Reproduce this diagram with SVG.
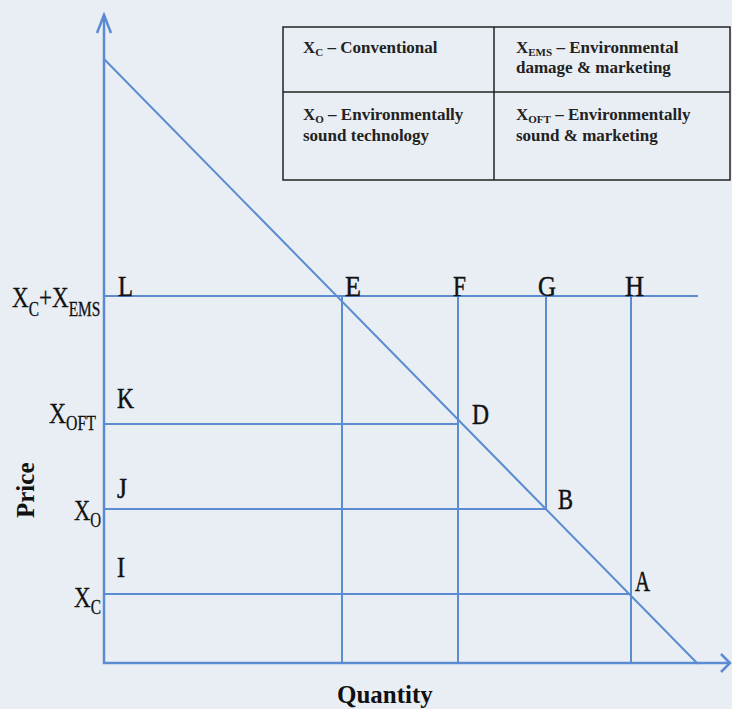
<svg xmlns="http://www.w3.org/2000/svg" width="732" height="709" viewBox="0 0 732 709">
<style>
.ln{stroke:#5b8bd1;stroke-width:2;fill:none;stroke-linecap:square}
.ax{stroke:#5b8bd1;stroke-width:2.5;fill:none;stroke-linejoin:miter}
.pt{font-family:"Liberation Serif",serif;font-size:30px;fill:#111;stroke:#111;stroke-width:0.5}
.ylab{font-family:"Liberation Serif",serif;font-size:30px;fill:#111;stroke:#111;stroke-width:0.3}
.sub{font-size:20px}
.tb{font-family:"Liberation Serif",serif;font-size:17px;font-weight:bold;fill:#222}
.tsub{font-size:11px}
.ttl{font-family:"Liberation Serif",serif;font-size:25px;font-weight:bold;fill:#111}
.grid{stroke:#222;stroke-width:1.5;fill:none}
</style>
<rect width="732" height="709" fill="#e9eef4"/>

<g id="connectors">
  <path class="ax" d="M104 15 V663 H729"/>
  <path class="ax" d="M97 33 L104 15 L111 33"/>
  <path class="ax" d="M721 654 L730 663 L721 672"/>
  <path class="ln" d="M104 59 L697 663"/>
  <path class="ln" d="M104 296 H697"/>
  <path class="ln" d="M104 424 H458"/>
  <path class="ln" d="M104 509 H546"/>
  <path class="ln" d="M104 594 H631"/>
  <path class="ln" d="M342 296 V663"/>
  <path class="ln" d="M458 296 V663"/>
  <path class="ln" d="M546 296 V509"/>
  <path class="ln" d="M631 296 V663"/>
</g>

<g id="legend">
  <rect class="grid" x="283" y="27" width="447" height="153"/>
  <line class="grid" x1="494" y1="27" x2="494" y2="180"/>
  <line class="grid" x1="283" y1="92" x2="730" y2="92"/>
  <text class="tb" x="303" y="53">X<tspan class="tsub" dy="3">C</tspan><tspan dy="-3"> – Conventional</tspan></text>
  <text class="tb" x="516" y="53">X<tspan class="tsub" dy="3">EMS</tspan><tspan dy="-3"> – Environmental</tspan></text>
  <text class="tb" x="516" y="73">damage &amp; marketing</text>
  <text class="tb" x="303" y="120">X<tspan class="tsub" dy="3">O</tspan><tspan dy="-3"> – Environmentally</tspan></text>
  <text class="tb" x="303" y="141">sound technology</text>
  <text class="tb" x="516" y="120">X<tspan class="tsub" dy="3">OFT</tspan><tspan dy="-3"> – Environmentally</tspan></text>
  <text class="tb" x="516" y="141">sound &amp; marketing</text>
</g>

<g id="y-labels">
  <text class="ylab" transform="translate(12 307) scale(0.77 1)">X<tspan class="sub" dy="9">C</tspan><tspan dy="-9">+X</tspan><tspan class="sub" dy="9">EMS</tspan></text>
  <text class="ylab" transform="translate(49 423) scale(0.79 1)">X<tspan class="sub" dy="7">OFT</tspan></text>
  <text class="ylab" transform="translate(74 520) scale(0.75 1)">X<tspan class="sub" dy="7">O</tspan></text>
  <text class="ylab" transform="translate(74 607) scale(0.77 1)">X<tspan class="sub" dy="7">C</tspan></text>
</g>

<g id="node-L"><text class="pt" x="118" y="296" textLength="15" lengthAdjust="spacingAndGlyphs">L</text></g>
<g id="node-K"><text class="pt" x="117" y="408" textLength="17" lengthAdjust="spacingAndGlyphs">K</text></g>
<g id="node-J"><text class="pt" x="117" y="498" textLength="10" lengthAdjust="spacingAndGlyphs">J</text></g>
<g id="node-I"><text class="pt" x="117" y="577" textLength="8" lengthAdjust="spacingAndGlyphs">I</text></g>
<g id="node-E"><text class="pt" x="345" y="296" textLength="16" lengthAdjust="spacingAndGlyphs">E</text></g>
<g id="node-F"><text class="pt" x="453" y="296" textLength="13" lengthAdjust="spacingAndGlyphs">F</text></g>
<g id="node-G"><text class="pt" x="538" y="296" textLength="18" lengthAdjust="spacingAndGlyphs">G</text></g>
<g id="node-H"><text class="pt" x="625" y="296" textLength="19" lengthAdjust="spacingAndGlyphs">H</text></g>
<g id="node-D"><text class="pt" x="472" y="424" textLength="17" lengthAdjust="spacingAndGlyphs">D</text></g>
<g id="node-B"><text class="pt" x="558" y="509" textLength="15" lengthAdjust="spacingAndGlyphs">B</text></g>
<g id="node-A"><text class="pt" x="635" y="591" textLength="15" lengthAdjust="spacingAndGlyphs">A</text></g>

<g id="axis-titles">
  <text class="ttl" transform="translate(34 518) rotate(-90)">Price</text>
  <text class="ttl" x="337" y="703">Quantity</text>
</g>
</svg>
